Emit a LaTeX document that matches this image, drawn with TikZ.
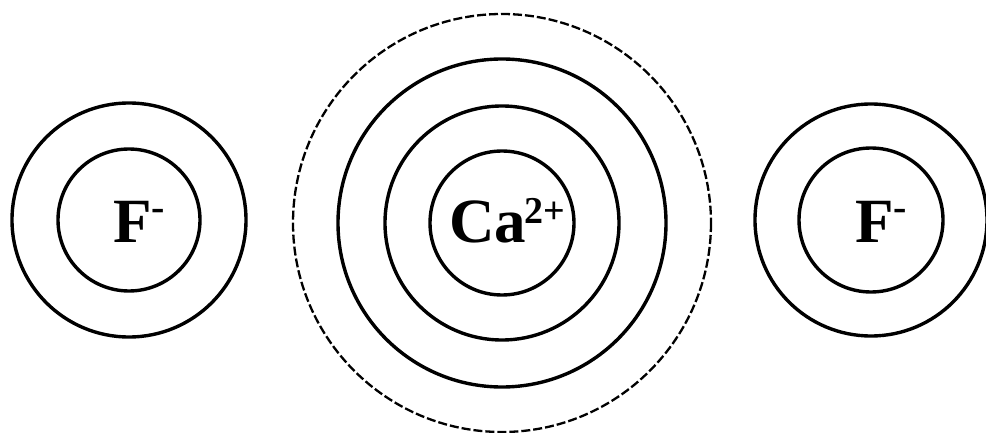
\documentclass[tikz,border=0pt]{standalone}
\usepackage{fontspec}
\setmainfont{Liberation Serif}
\begin{document}
\begin{tikzpicture}[x=1pt,y=-1pt,
  shell/.style={draw=black,line width=3.4pt},
  outershell/.style={draw=black,line width=2.3pt,dash pattern=on 9pt off 3pt},
  ion/.style={font=\fontsize{63}{63}\selectfont\bfseries,inner sep=0pt,anchor=base west}]
\useasboundingbox (0,0) rectangle (986,433);
\coordinate (fl) at (129,220);
\coordinate (ca) at (502,223);
\coordinate (fr) at (871,220);
% left F-
\draw[shell] (fl) circle[radius=117];
\draw[shell] (fl) circle[radius=71];
% Ca2+
\draw[outershell] (ca) circle[radius=209];
\draw[shell] (ca) circle[radius=164];
\draw[shell] (ca) circle[radius=117];
\draw[shell] (ca) circle[radius=72];
% right F-
\draw[shell] (fr) circle[radius=116];
\draw[shell] (fr) circle[radius=72];
% labels
\node[ion] (tfl) at (113,242) {F\raisebox{22pt}{\fontsize{40}{40}\selectfont -}};
\node[ion] (tca) at (449,243) {Ca\kern-2pt\raisebox{20pt}{\fontsize{38}{38}\selectfont 2+}};
\node[ion] (tfr) at (855,242) {F\raisebox{22pt}{\fontsize{40}{40}\selectfont -}};
\end{tikzpicture}
\end{document}
